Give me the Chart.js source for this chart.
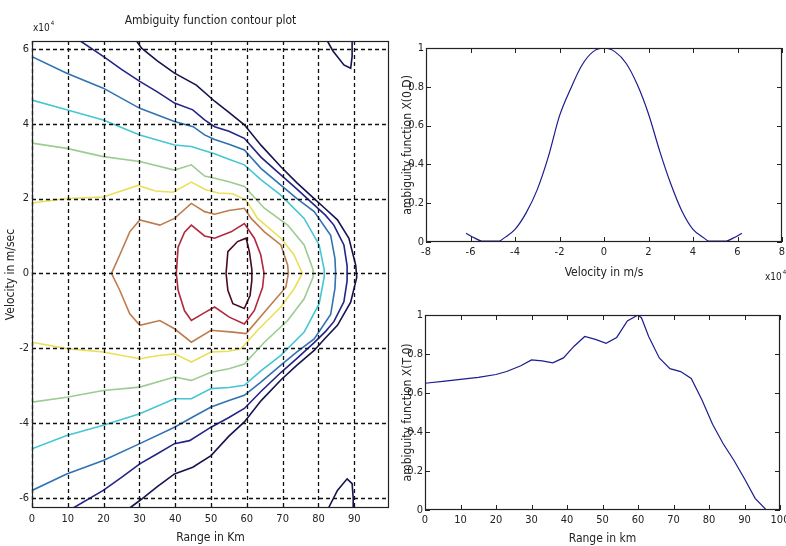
<!DOCTYPE html>
<html>
<head>
<meta charset="utf-8">
<script src="https://cdn.jsdelivr.net/npm/chart.js@4.4.0/dist/chart.umd.min.js"></script>
<style>
  html, body { margin: 0; padding: 0; background: #fff; }
  #wrap { position: relative; width: 786px; height: 546px; overflow: hidden; }
  canvas { position: absolute; }
</style>
</head>
<body>
<div id="wrap">
  <canvas id="contourChart" width="400" height="546" style="left:0;top:0"></canvas>
  <canvas id="velocityChart" width="386" height="290" style="left:400px;top:0"></canvas>
  <canvas id="rangeChart" width="386" height="256" style="left:400px;top:290px"></canvas>
</div>
<script>
// contour lines, [range km, velocity (x10^4 m/s)], outermost (lowest) level first
const level1 = [[29.2, 6.21], [30.6, 6.02], [35.0, 5.68], [39.8, 5.35], [45.9, 5.03], [51.0, 4.6], [55.0, 4.3], [59.3, 3.97], [64.0, 3.42], [69.5, 2.85], [74.0, 2.42], [78.8, 2.0], [82.0, 1.72], [85.3, 1.43], [88.5, 0.94], [90.4, 0.22], [90.7, -0.1], [90.4, -0.22], [89.0, -0.77], [85.3, -1.39], [82.0, -1.72], [78.8, -2.06], [74.0, -2.45], [69.5, -2.85], [64.0, -3.4], [59.3, -3.97], [55.0, -4.35], [50.0, -4.87], [44.9, -5.18], [39.8, -5.36], [35.0, -5.7], [30.1, -6.07], [27.3, -6.27]];
const level1Top = [[82.5, 6.21], [84.0, 5.95], [87.1, 5.57], [89.0, 5.48], [89.4, 5.8], [89.4, 6.21]];
const level1Bottom = [[82.8, -6.27], [85.3, -5.8], [88.0, -5.49], [89.4, -5.62], [89.7, -6.0], [89.7, -6.27]];
const level2 = [[13.5, 6.21], [19.9, 5.8], [25.0, 5.45], [30.1, 5.13], [35.0, 4.85], [39.8, 4.55], [44.9, 4.37], [48.2, 4.1], [51.0, 3.92], [55.0, 3.8], [59.3, 3.61], [64.0, 3.1], [69.5, 2.63], [74.0, 2.25], [78.8, 1.83], [82.0, 1.55], [84.3, 1.29], [87.1, 0.76], [88.0, 0.2], [88.0, -0.2], [87.1, -0.76], [84.3, -1.29], [82.0, -1.55], [78.8, -1.85], [74.0, -2.27], [69.5, -2.65], [64.0, -3.15], [59.3, -3.61], [55.0, -3.85], [50.0, -4.11], [44.0, -4.47], [39.8, -4.55], [35.0, -4.82], [30.1, -5.09], [25.0, -5.45], [19.9, -5.8], [11.5, -6.27]];
const level3 = [[0, 5.79], [9.7, 5.35], [19.9, 4.95], [30.1, 4.41], [39.8, 4.06], [45.0, 3.92], [48.2, 3.7], [51.0, 3.58], [55.0, 3.45], [59.3, 3.3], [64.0, 2.8], [69.5, 2.36], [74.0, 2.0], [78.8, 1.65], [83.4, 1.02], [84.6, 0.4], [84.8, 0], [84.6, -0.4], [83.4, -1.1], [78.8, -1.75], [74.0, -2.1], [69.5, -2.45], [64.0, -2.9], [59.3, -3.26], [55.0, -3.4], [50.0, -3.57], [44.9, -3.84], [39.8, -4.11], [30.1, -4.55], [19.9, -5.0], [9.7, -5.36], [0, -5.8]];
const level4 = [[0, 4.63], [9.7, 4.37], [19.9, 4.1], [30.1, 3.7], [39.8, 3.43], [44.5, 3.39], [48.2, 3.28], [51.0, 3.2], [55.0, 3.05], [59.3, 2.9], [64.0, 2.5], [69.5, 2.09], [76.0, 1.47], [80.2, 0.76], [81.6, 0.1], [81.6, -0.1], [80.2, -0.81], [76.0, -1.57], [69.5, -2.19], [64.0, -2.6], [59.3, -2.99], [55.0, -3.05], [50.0, -3.08], [44.5, -3.35], [39.8, -3.35], [30.1, -3.75], [19.9, -4.06], [9.7, -4.33], [0, -4.69]];
const level5 = [[0, 3.48], [9.7, 3.34], [19.9, 3.12], [30.1, 2.99], [39.8, 2.76], [44.5, 2.9], [48.2, 2.6], [51.0, 2.54], [55.0, 2.45], [59.3, 2.32], [64.9, 1.74], [71.4, 1.29], [76.0, 0.76], [78.5, 0.1], [78.5, -0.1], [76.0, -0.68], [71.4, -1.26], [64.9, -1.84], [59.3, -2.42], [55.0, -2.55], [50.0, -2.64], [44.5, -2.86], [39.8, -2.77], [30.1, -3.04], [19.9, -3.13], [9.7, -3.31], [0, -3.44]];
const level6 = [[0, 1.88], [9.7, 2.0], [19.9, 2.04], [29.6, 2.35], [34.5, 2.2], [39.4, 2.17], [44.5, 2.44], [48.2, 2.25], [52.0, 2.15], [56.1, 2.13], [59.8, 1.95], [63.0, 1.47], [69.5, 0.94], [73.2, 0.49], [75.5, 0], [73.2, -0.41], [69.5, -0.9], [63.0, -1.52], [58.4, -2.01], [55.0, -2.08], [50.0, -2.1], [44.5, -2.37], [39.8, -2.15], [35.0, -2.2], [30.1, -2.28], [19.9, -2.1], [9.7, -2.01], [0, -1.84]];
const level7 = [[22.2, 0], [24.5, 0.49], [27.3, 1.11], [30.1, 1.43], [35.7, 1.29], [39.8, 1.47], [44.5, 1.87], [48.2, 1.65], [51.0, 1.58], [55.0, 1.68], [59.3, 1.74], [61.2, 1.47], [64.9, 1.11], [69.5, 0.76], [71.4, 0.22], [71.6, 0], [70.9, -0.37], [65.3, -0.99], [59.8, -1.61], [56.1, -1.57], [50.0, -1.52], [44.5, -1.84], [39.8, -1.48], [35.7, -1.26], [30.1, -1.39], [27.3, -1.08], [24.5, -0.45], [22.2, 0]];
const level8 = [[40.3, 0], [40.8, 0.7], [42.6, 1.1], [44.5, 1.29], [48.2, 1.0], [51.0, 0.94], [55.6, 1.11], [59.3, 1.33], [62.1, 0.94], [63.9, 0.49], [64.8, 0], [64.4, -0.37], [62.1, -0.99], [59.3, -1.35], [55.1, -1.17], [51.0, -0.9], [48.2, -1.05], [44.5, -1.26], [42.6, -1.0], [40.8, -0.45], [40.3, 0]];
const level9 = [[54.2, 0], [54.7, 0.58], [57.4, 0.85], [59.8, 0.94], [60.7, 0.58], [61.4, 0.1], [61.4, -0.18], [60.9, -0.59], [59.3, -0.94], [56.1, -0.81], [54.7, -0.45], [54.2, 0]];

const contourLevels = [level1, level1Top, level1Bottom, level2, level3, level4, level5, level6, level7, level8, level9];
const levelColors = ["#14144e", "#14144e", "#14144e", "#23238a", "#3172b2", "#45c6d4", "#9ccc92", "#e9e05a", "#bd7c4e", "#b2283e", "#4a0a22"];

const contourRangeTicks = [0, 10, 20, 30, 40, 50, 60, 70, 80, 90];
const contourVelocityTicks = [-6, -4, -2, 0, 2, 4, 6];

// zero-range cut, velocity in x10^4 m/s
const velocityValues = [-6.2, -5.8, -5.5, -5.0, -4.7, -4.5, -4.0, -3.5, -3.0, -2.5, -2.0, -1.5, -1.0, -0.5, 0, 0.5, 1.0, 1.5, 2.0, 2.5, 3.0, 3.5, 4.0, 4.5, 4.7, 5.0, 5.5, 5.8, 6.2];
const velocityAmbiguity = [0.045, 0.02, 0.005, 0.004, 0.005, 0.02, 0.065, 0.15, 0.27, 0.44, 0.65, 0.79, 0.91, 0.98, 1.0, 0.98, 0.92, 0.81, 0.66, 0.47, 0.3, 0.16, 0.065, 0.02, 0.005, 0.004, 0.005, 0.02, 0.045];
const velocityTicks = [-8, -6, -4, -2, 0, 2, 4, 6, 8];

// zero-doppler cut
const rangeValues = [0, 5, 10, 15, 20, 23, 27, 30, 33, 36, 39, 42, 45, 48, 51, 54, 57, 60, 61, 63, 66, 69, 72, 75, 78, 81, 84, 87, 90, 93, 96, 100];
const rangeAmbiguity = [0.65, 0.66, 0.67, 0.68, 0.695, 0.71, 0.74, 0.77, 0.765, 0.755, 0.78, 0.84, 0.89, 0.875, 0.855, 0.885, 0.97, 1.0, 0.985, 0.89, 0.78, 0.725, 0.71, 0.675, 0.565, 0.44, 0.34, 0.255, 0.16, 0.06, 0.003, 0.0];
const rangeTicks = [0, 10, 20, 30, 40, 50, 60, 70, 80, 90, 100];
const ambiguityTicks = [0, 0.2, 0.4, 0.6, 0.8, 1];

const FONT = "'Liberation Sans Narrow', 'DejaVu Sans Condensed', 'Liberation Sans', sans-serif";

// box, inward ticks, dashed grid and the x10^4 note, matlab style
const matlabFrame = {
  id: "matlabFrame",
  afterDatasetsDraw(chart, args, opts) {
    const { ctx, chartArea: a } = chart;
    const xs = chart.scales.x;
    const ys = chart.scales.y;
    ctx.save();
    if (opts.grid) {
      ctx.strokeStyle = "#111";
      ctx.lineWidth = 1.3;
      ctx.setLineDash([4, 3]);
      ctx.beginPath();
      xs.ticks.forEach((t) => {
        const px = Math.round(xs.getPixelForValue(t.value)) + 0.5;
        ctx.moveTo(px, a.top);
        ctx.lineTo(px, a.bottom);
      });
      ys.ticks.forEach((t) => {
        const py = Math.round(ys.getPixelForValue(t.value)) + 0.5;
        ctx.moveTo(a.left, py);
        ctx.lineTo(a.right, py);
      });
      ctx.stroke();
      ctx.setLineDash([]);
    } else {
      const len = 5;
      ctx.strokeStyle = "#222";
      ctx.lineWidth = 1;
      ctx.beginPath();
      xs.ticks.forEach((t) => {
        const px = Math.round(xs.getPixelForValue(t.value)) + 0.5;
        ctx.moveTo(px, a.bottom);
        ctx.lineTo(px, a.bottom - len);
        ctx.moveTo(px, a.top);
        ctx.lineTo(px, a.top + len);
      });
      ys.ticks.forEach((t) => {
        const py = Math.round(ys.getPixelForValue(t.value)) + 0.5;
        ctx.moveTo(a.left, py);
        ctx.lineTo(a.left + len, py);
        ctx.moveTo(a.right, py);
        ctx.lineTo(a.right - len, py);
      });
      ctx.stroke();
    }
    ctx.strokeStyle = "#222";
    ctx.lineWidth = 1.2;
    ctx.strokeRect(Math.round(a.left) + 0.5, Math.round(a.top) + 0.5, Math.round(a.width) - 1, Math.round(a.height) - 1);
    if (opts.exponent) {
      const ex = opts.exponent.corner === "topLeft" ? a.left + opts.exponent.dx : a.right + opts.exponent.dx;
      const ey = opts.exponent.corner === "topLeft" ? a.top + opts.exponent.dy : a.bottom + opts.exponent.dy;
      ctx.fillStyle = "#222";
      ctx.textBaseline = "middle";
      ctx.textAlign = "left";
      ctx.font = "10px " + FONT;
      ctx.fillText("x10", ex, ey);
      const w = ctx.measureText("x10").width;
      ctx.font = "6px " + FONT;
      ctx.fillText("4", ex + w + 1, ey - 5);
    }
    ctx.restore();
  },
};

const fixedTicks = (values) => (scale) => {
  scale.ticks = values.map((v) => ({ value: v }));
};

// fix the axis box size and stop the end labels from pushing the plot area in
const fixHeight = (h) => (s) => {
  s.height = h;
  s.paddingLeft = 0;
  s.paddingRight = 0;
};
const fixWidth = (w) => (s) => {
  s.width = w;
  s.paddingTop = 0;
  s.paddingBottom = 0;
};

const tickFont = { family: FONT, size: 11 };
const titleFont = { family: FONT, size: 12 };

new Chart(document.getElementById("contourChart"), {
  type: "scatter",
  data: {
    datasets: contourLevels.map((pts, i) => ({
      data: pts.map((p) => ({ x: p[0], y: p[1] })),
      xAxisID: "x",
      yAxisID: "y",
      showLine: true,
      borderColor: levelColors[i],
      borderWidth: 1.6,
      pointRadius: 0,
      fill: false,
    })),
  },
  options: {
    responsive: false,
    animation: false,
    devicePixelRatio: 1,
    layout: { padding: { top: 0, right: 11, bottom: 0, left: 0 }, autoPadding: false },
    plugins: {
      legend: { display: false },
      tooltip: { enabled: false },
      matlabFrame: { grid: true, exponent: { corner: "topLeft", dx: 1, dy: -13 } },
    },
    scales: {
      x: {
        type: "linear",
        min: 0,
        max: 99.7,
        afterBuildTicks: fixedTicks(contourRangeTicks),
        afterFit: fixHeight(38),
        grid: { display: false, drawTicks: false },
        border: { display: false },
        ticks: { font: tickFont, color: "#222", padding: 5, maxRotation: 0 },
        title: { display: true, text: "Range in Km", font: titleFont, color: "#222", padding: { top: 0, bottom: 1 } },
      },
      y: {
        type: "linear",
        min: -6.27,
        max: 6.21,
        afterBuildTicks: fixedTicks(contourVelocityTicks),
        afterFit: fixWidth(32),
        grid: { display: false, drawTicks: false },
        border: { display: false },
        ticks: { font: tickFont, color: "#222", padding: 3 },
        title: { display: true, text: "Velocity in m/sec", font: titleFont, color: "#222", padding: { top: 4, bottom: 0 } },
      },
      top: {
        type: "linear",
        position: "top",
        afterFit: fixHeight(41),
        grid: { display: false, drawTicks: false },
        border: { display: false },
        ticks: { display: false },
        title: { display: true, text: "Ambiguity function contour plot", font: { family: FONT, size: 12 }, color: "#222", padding: { top: 14, bottom: 0 } },
      },
    },
  },
  plugins: [matlabFrame],
});

const lineChart = (id, xs, ys, xTicks, xMin, xMax, xTitle, yTitle, box, exponent) =>
  new Chart(document.getElementById(id), {
    type: "scatter",
    data: {
      datasets: [
        {
          data: xs.map((x, i) => ({ x: x, y: ys[i] })),
          showLine: true,
          borderColor: "#1c1c8e",
          borderWidth: 1.2,
          pointRadius: 0,
          fill: false,
          cubicInterpolationMode: box.smooth ? "monotone" : "default",
        },
      ],
    },
    options: {
      responsive: false,
      animation: false,
      devicePixelRatio: 1,
      layout: { padding: box.padding, autoPadding: false },
      plugins: {
        legend: { display: false },
        tooltip: { enabled: false },
        matlabFrame: { grid: false, exponent: exponent },
      },
      scales: {
        x: {
          type: "linear",
          min: xMin,
          max: xMax,
          afterBuildTicks: fixedTicks(xTicks),
          afterFit: fixHeight(box.xHeight),
          grid: { display: false, drawTicks: false },
          border: { display: false },
          ticks: { font: tickFont, color: "#222", padding: 4, maxRotation: 0 },
          title: { display: true, text: xTitle, font: titleFont, color: "#222", padding: { top: 0, bottom: box.titleBottom } },
        },
        y: {
          type: "linear",
          min: 0,
          max: 1,
          afterBuildTicks: fixedTicks(ambiguityTicks),
          afterFit: fixWidth(box.yWidth),
          grid: { display: false, drawTicks: false },
          border: { display: false },
          ticks: { font: tickFont, color: "#222", padding: 2, callback: (v) => String(v) },
          title: { display: true, text: yTitle, font: titleFont, color: "#222", padding: { top: 1, bottom: 0 } },
        },
      },
    },
    plugins: [matlabFrame],
  });

lineChart(
  "velocityChart", velocityValues, velocityAmbiguity, velocityTicks, -8, 8,
  "Velocity in m/s", "ambiguity function X(0,D)",
  { padding: { top: 48, right: 4, bottom: 0, left: 0 }, xHeight: 48, yWidth: 26, titleBottom: 10, smooth: true },
  { corner: "bottomRight", dx: -17, dy: 35 }
);

lineChart(
  "rangeChart", rangeValues, rangeAmbiguity, rangeTicks, 0, 100,
  "Range in km", "ambiguity function X(T,0)",
  { padding: { top: 25, right: 6, bottom: 0, left: 0 }, xHeight: 36, yWidth: 25, titleBottom: 0, smooth: false },
  null
);
</script>
</body>
</html>
